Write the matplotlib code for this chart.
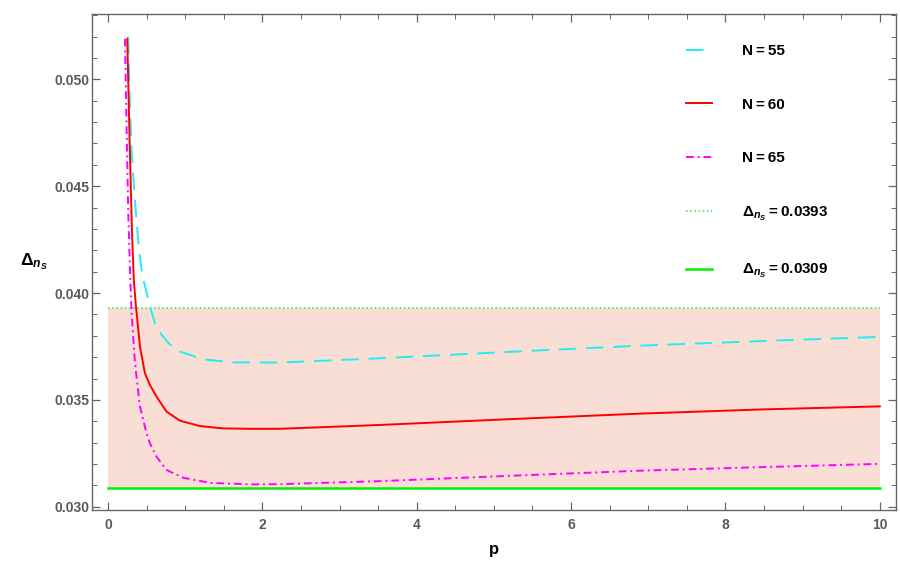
import matplotlib
matplotlib.use("Agg")
import matplotlib.pyplot as plt
from matplotlib.ticker import MultipleLocator, FormatStrFormatter

plt.rcParams['font.family'] = ['Liberation Sans', 'DejaVu Sans']
plt.rcParams['mathtext.fontset'] = 'custom'
plt.rcParams['mathtext.rm'] = 'Liberation Sans:bold'
plt.rcParams['mathtext.it'] = 'Liberation Sans:bold:italic'
plt.rcParams['mathtext.bf'] = 'Liberation Sans:bold'

# values
p_55 = [0.262, 0.285, 0.307, 0.337, 0.363, 0.406, 0.449, 0.492, 0.544, 0.609, 0.695,
        0.80, 0.933, 1.235, 1.62, 2.23, 3.52, 5.2, 6.89, 8.5, 10]
d_55 = [0.0520, 0.04858, 0.04655, 0.0450, 0.0437, 0.0419, 0.04077, 0.04015, 0.03937,
        0.03859, 0.03805, 0.0376, 0.03726, 0.0369, 0.03676, 0.03675, 0.03695, 0.03725,
        0.03754, 0.03776, 0.03795]

p_60 = [0.25, 0.28, 0.31, 0.335, 0.363, 0.415, 0.479, 0.544, 0.63, 0.76, 0.933, 1.19,
        1.49, 1.84, 2.23, 3.52, 5.2, 6.89, 8.5, 10]
d_60 = [0.0519, 0.0472, 0.0430, 0.0406, 0.03937, 0.03749, 0.03625, 0.0357, 0.03515,
        0.03445, 0.03403, 0.03378, 0.03367, 0.03365, 0.03365, 0.03383, 0.0341, 0.03436,
        0.03456, 0.0347]

p_65 = [0.22, 0.242, 0.263, 0.29, 0.307, 0.35, 0.415, 0.50, 0.544, 0.63, 0.76, 0.975,
        1.32, 1.84, 2.23, 3.52, 5.2, 6.89, 8.5, 10]
d_65 = [0.0519, 0.04764, 0.04374, 0.0406, 0.03906, 0.03672, 0.03468, 0.03344, 0.03297,
        0.03234, 0.03172, 0.03136, 0.03112, 0.03105, 0.03106, 0.0312, 0.03145, 0.03169,
        0.03186, 0.03201]

band_p = [0, 10]
upper = 0.0393
lower = 0.0309

fig = plt.figure(figsize=(9, 5.75), dpi=100)
ax = fig.add_axes([0.1022, 0.1130, 0.8934, 0.8627])

ax.fill_between(band_p, [lower, lower], [upper, upper], color='#f9ded6', lw=0, zorder=1)
ax.plot(band_p, [upper, upper], color='#44ee44', lw=1.2, ls=(0, (1, 1.5)), zorder=2,
        label='$\\Delta_{n_S}$\u2009=\u20090.0393')
ax.plot(band_p, [lower, lower], color='#00f000', lw=1.8, zorder=2,
        label='$\\Delta_{n_S}$\u2009=\u20090.0309')
l55, = ax.plot(p_55, d_55, color='#22eef0', lw=1.4, ls=(0, (9, 5)), zorder=3,
               label='N\u2009=\u200955')
l60, = ax.plot(p_60, d_60, color='#ff0000', lw=1.4, zorder=4, label='N\u2009=\u200960')
l65, = ax.plot(p_65, d_65, color='#ff00ff', lw=1.4, ls=(0, (4, 2, 1, 2)), zorder=3,
               label='N\u2009=\u200965')

ax.set_xlim(-0.207, 10.21)
ax.set_ylim(0.02985, 0.05306)

ax.xaxis.set_major_locator(MultipleLocator(2))
ax.xaxis.set_minor_locator(MultipleLocator(0.5))
ax.yaxis.set_major_locator(MultipleLocator(0.005))
ax.yaxis.set_minor_locator(MultipleLocator(0.001))
ax.yaxis.set_major_formatter(FormatStrFormatter('%.3f'))

frame = '#666666'
for s in ax.spines.values():
    s.set_color(frame)
    s.set_linewidth(1.0)
ax.tick_params(which='both', direction='in', top=True, right=True, color=frame,
               labelcolor='#5a5a5a', labelsize=10)
ax.tick_params(which='major', length=6, width=0.9)
ax.tick_params(which='minor', length=3.5, width=0.7)
ax.tick_params(axis='y', which='major', pad=2)
ax.tick_params(axis='x', which='major', pad=6)
for t in ax.get_xticklabels() + ax.get_yticklabels():
    t.set_fontweight('bold')

ax.set_xlabel('p', fontsize=12, fontweight='bold', labelpad=7)
fig.text(0.022, 0.545, r'$\Delta_{n_S}$', fontsize=12.5, ha='left', va='center')

handles = [l55, l60, l65] + ax.lines[:2]
labels = [h.get_label() for h in handles]
leg = ax.legend(handles, labels, loc='upper left', bbox_to_anchor=(0.762, 0.923),
                bbox_transform=fig.transFigure, frameon=False, fontsize=11,
                handlelength=1.7, handletextpad=2.0, labelspacing=2.58,
                borderpad=0, borderaxespad=0)
for t in leg.get_texts():
    t.set_fontweight('bold')

fig.savefig('out.png', dpi=100)
